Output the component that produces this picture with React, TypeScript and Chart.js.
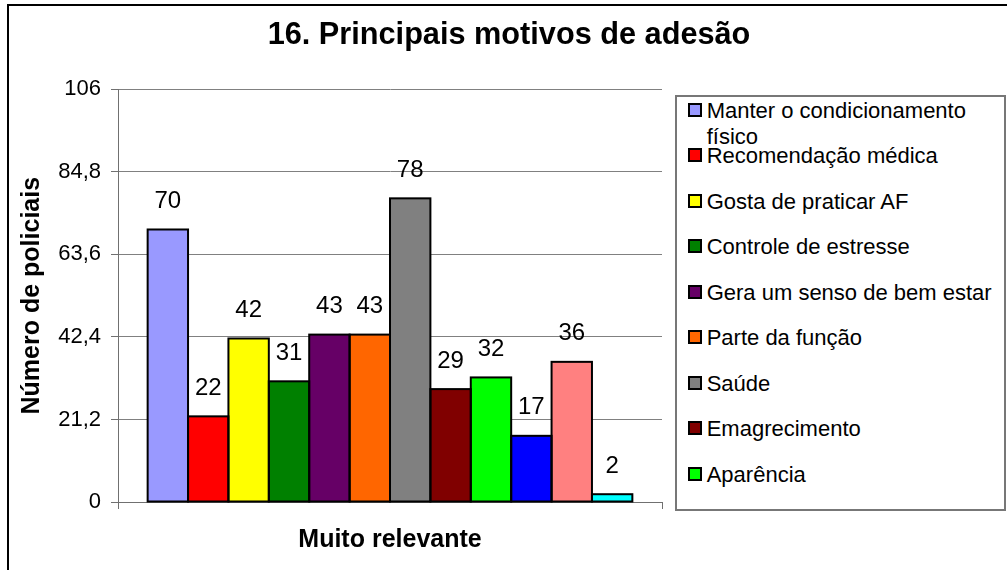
import React, { useEffect, useRef } from "react";
import { Chart, registerables } from "chart.js";

Chart.register(...registerables);

const FONT = "'Liberation Sans', Arial, Helvetica, sans-serif";

const chartTitle = "16. Principais motivos de adesão";
const yAxisTitle = "Número de policiais";
const categories = ["Muito relevante"];
const seriesNames = [
  "Manter o condicionamento físico",
  "Recomendação médica",
  "Gosta de praticar AF",
  "Controle de estresse",
  "Gera um senso de bem estar",
  "Parte da função",
  "Saúde",
  "Emagrecimento",
  "Aparência",
  "Lazer",
  "Convívio social",
  "Outros",
];
const seriesValues = [70, 22, 42, 31, 43, 43, 78, 29, 32, 17, 36, 2];
const seriesColors = [
  "#9999FF",
  "#FF0000",
  "#FFFF00",
  "#008000",
  "#660066",
  "#FF6600",
  "#808080",
  "#800000",
  "#00FF00",
  "#0000FF",
  "#FF8080",
  "#00FFFF",
];
const yTickValues = [0, 21.2, 42.4, 63.6, 84.8, 106];
const yTickLabels = ["0", "21,2", "42,4", "63,6", "84,8", "106"];
const visibleLegendCount = 9;

// Excel-like centred outlines around each bar, plus the value labels above them.
const barOutlinesAndLabels = {
  id: "barOutlinesAndLabels",
  afterDatasetsDraw(chart: any) {
    const ctx = chart.ctx;
    ctx.save();
    ctx.strokeStyle = "#000";
    ctx.lineWidth = 2;
    chart.data.datasets.forEach((_ds: any, i: number) => {
      const meta = chart.getDatasetMeta(i);
      meta.data.forEach((el: any) => {
        const { x, y, base, width } = el.getProps(["x", "y", "base", "width"], true);
        ctx.strokeRect(x - width / 2, y, width, base - y);
      });
    });
    ctx.font = `24px ${FONT}`;
    ctx.fillStyle = "#000";
    ctx.textAlign = "center";
    ctx.textBaseline = "middle";
    chart.data.datasets.forEach((ds: any, i: number) => {
      const meta = chart.getDatasetMeta(i);
      meta.data.forEach((el: any, j: number) => {
        ctx.fillText(String(ds.data[j]), el.x, el.y - 28);
      });
    });
    ctx.restore();
  },
};

export default function App() {
  const canvasRef = useRef<HTMLCanvasElement | null>(null);

  useEffect(() => {
    if (!canvasRef.current) return;
    Chart.defaults.font.family = FONT;
    const chart = new Chart(canvasRef.current, {
      type: "bar",
      data: {
        labels: categories,
        datasets: seriesNames.map((name, i) => ({
          label: name,
          data: [seriesValues[i]],
          backgroundColor: seriesColors[i],
          borderColor: "#000000",
          borderWidth: 0,
          categoryPercentage: 0.891,
          barPercentage: 1,
          yAxisID: "y",
        })),
      },
      options: {
        responsive: false,
        animation: false,
        devicePixelRatio: 1,
        layout: { padding: 0 },
        plugins: {
          legend: { display: false },
          tooltip: { enabled: false },
          title: {
            display: true,
            text: chartTitle,
            color: "#000",
            font: { size: 30.7, weight: "bold", family: FONT },
            padding: { top: 17, bottom: 35.5 },
          },
        },
        scales: {
          x: {
            type: "category",
            offset: true,
            grid: {
              display: true,
              offset: true,
              drawOnChartArea: false,
              drawTicks: true,
              tickLength: 7,
              color: "#707070",
              tickColor: "#707070",
            },
            border: { display: true, color: "#707070", width: 1 },
            ticks: {
              color: "#000",
              font: { size: 25, weight: "bold", family: FONT },
              padding: 16,
              maxRotation: 0,
            },
            afterFit: (s: any) => {
              s.height = 68;
            },
          },
          y: {
            type: "linear",
            position: "left",
            min: 0,
            max: 106,
            afterBuildTicks: (s: any) => {
              s.ticks = yTickValues.map((v) => ({ value: v }));
            },
            ticks: {
              callback: (_v: any, i: number) => yTickLabels[i],
              color: "#000",
              font: { size: 22, family: FONT },
              padding: 10,
            },
            grid: {
              color: "#808080",
              lineWidth: 1,
              drawTicks: true,
              tickLength: 7,
              tickColor: "#707070",
            },
            border: { display: true, color: "#707070", width: 1 },
            title: {
              display: true,
              text: yAxisTitle,
              color: "#000",
              font: { size: 25, weight: "bold", family: FONT },
              padding: { top: 17, bottom: 0 },
            },
            afterFit: (s: any) => {
              s.width = 118;
            },
          },
          yRightSpace: {
            type: "linear",
            position: "right",
            display: true,
            ticks: { display: false },
            grid: { display: false, drawTicks: false },
            border: { display: false },
            title: { display: false },
            afterFit: (s: any) => {
              s.width = 356;
            },
          },
        },
      },
      plugins: [barOutlinesAndLabels],
    } as any);
    return () => chart.destroy();
  }, []);

  return (
    <div
      style={{
        position: "fixed",
        left: 0,
        top: 0,
        width: 1007,
        height: 570,
        overflow: "hidden",
        background: "#fff",
        fontFamily: FONT,
      }}
    >
      <div
        style={{
          position: "absolute",
          left: 7,
          top: 4,
          width: 1100,
          height: 700,
          border: "2px solid #000",
          boxSizing: "border-box",
        }}
      />
      <canvas
        ref={canvasRef}
        width={1018}
        height={570}
        style={{ position: "absolute", left: 0, top: 0, width: 1018, height: 570 }}
      />
      <div
        style={{
          position: "absolute",
          left: 675,
          top: 95,
          width: 331,
          height: 416,
          border: "2px solid #777",
          boxSizing: "border-box",
          background: "#fff",
        }}
      >
        {seriesNames.slice(0, visibleLegendCount).map((name, i) => (
          <div
            key={name}
            style={{
              position: "absolute",
              left: 10.7,
              top: 0.7 + i * 45.5,
              width: 315,
              display: "flex",
              alignItems: "flex-start",
            }}
          >
            <span
              style={{
                width: 14,
                height: 14,
                boxSizing: "border-box",
                border: "2px solid #000",
                background: seriesColors[i],
                marginTop: 5,
                flex: "0 0 auto",
              }}
            />
            <span
              style={{
                marginLeft: 5,
                fontSize: 22,
                lineHeight: "26px",
                color: "#000",
              }}
            >
              {name}
            </span>
          </div>
        ))}
      </div>
    </div>
  );
}
